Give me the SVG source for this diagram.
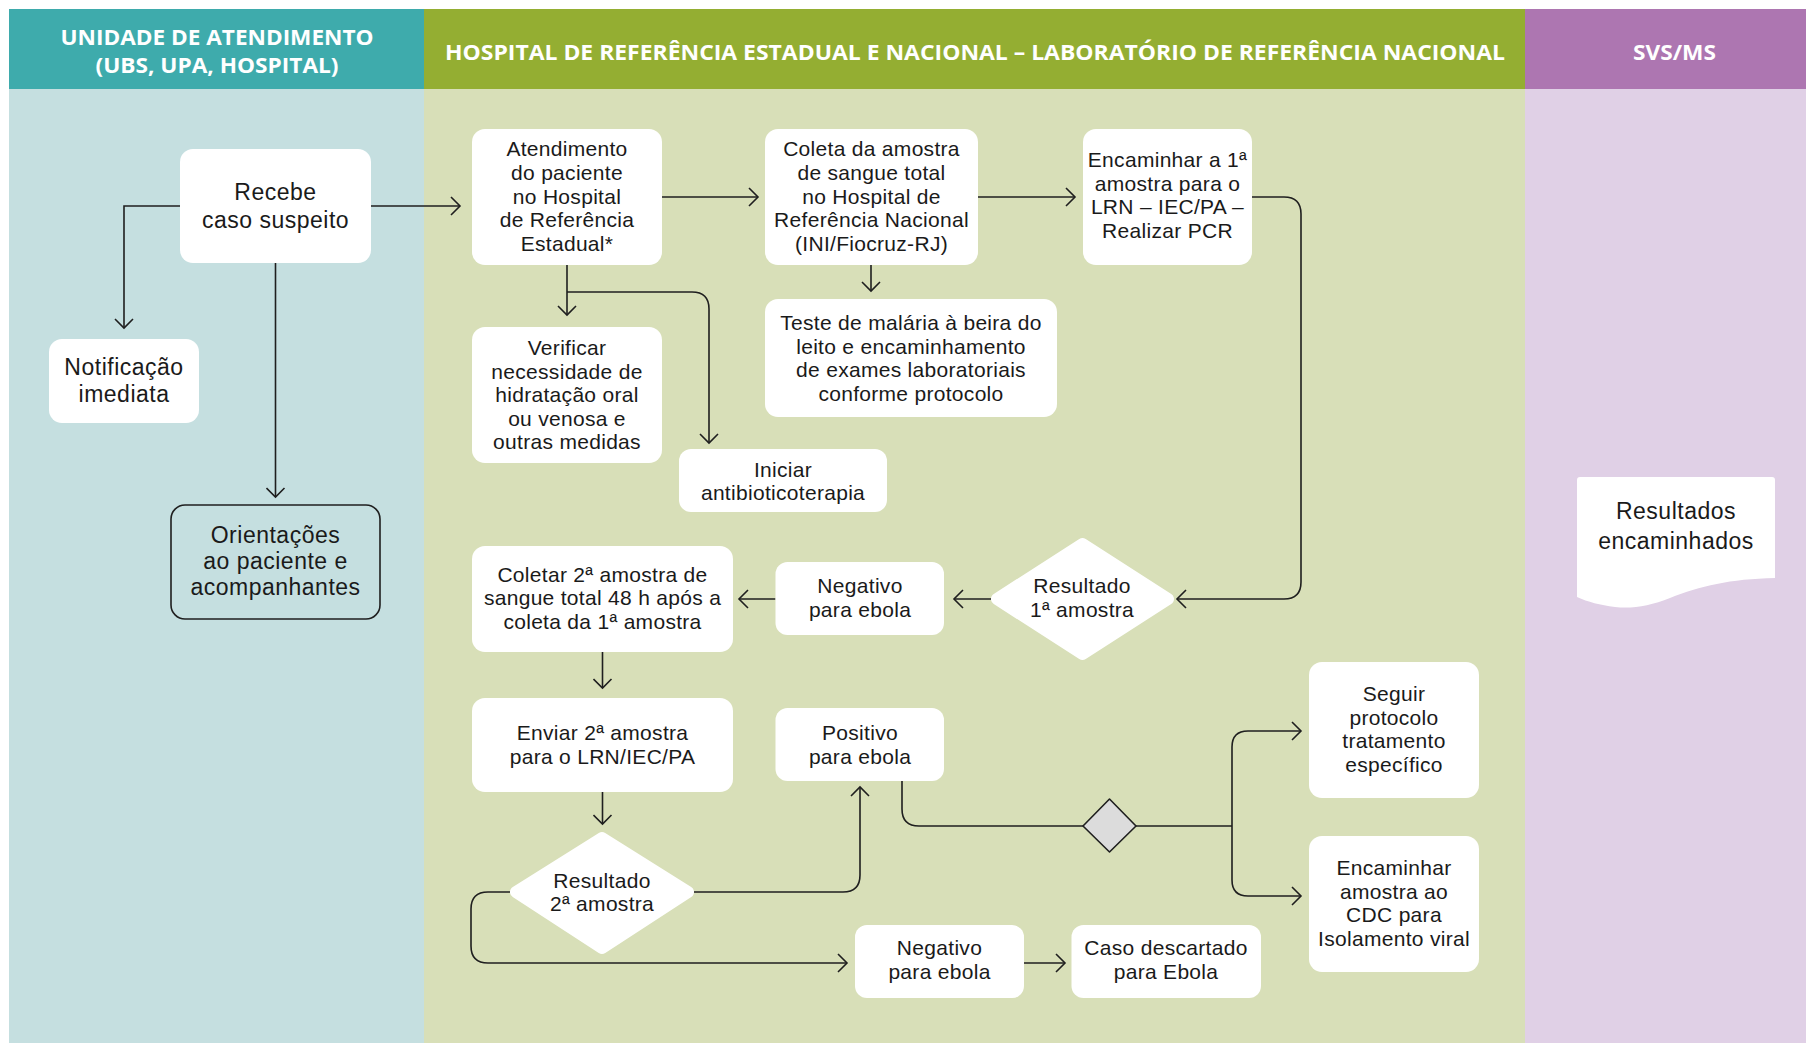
<svg xmlns="http://www.w3.org/2000/svg" width="1806" height="1043" viewBox="0 0 1806 1043">
<style>
.hd{font-family:"Open Sans","Liberation Sans",sans-serif;font-weight:700;font-size:21px;fill:#ffffff;text-anchor:middle}
.t{font-family:"Liberation Sans",Arial,sans-serif;font-size:21px;letter-spacing:0.3px;fill:#1a1a1a;text-anchor:middle}
.tl{font-family:"Liberation Sans",Arial,sans-serif;font-size:23px;letter-spacing:0.5px;fill:#1a1a1a;text-anchor:middle}
.box{fill:#ffffff}
.dia{fill:#ffffff;stroke:#ffffff;stroke-width:12;stroke-linejoin:round}
.ln{fill:none;stroke:#1f1f1f;stroke-width:1.6}
.arr{marker-end:url(#ah)}
</style>
<defs>
<marker id="ah" markerWidth="20" markerHeight="20" refX="10" refY="10" orient="auto" markerUnits="userSpaceOnUse" viewBox="0 0 20 20">
<path d="M1,1 L10,10 L1,19" fill="none" stroke="#1f1f1f" stroke-width="1.6"/>
</marker>
</defs>
<rect x="0" y="0" width="1806" height="1043" fill="#ffffff"/>
<g id="lanes">
<rect x="9" y="89" width="415" height="954" fill="#C5DFE0"/>
<rect x="424" y="89" width="1101" height="954" fill="#D8DFB8"/>
<rect x="1525" y="89" width="281" height="954" fill="#E0D0E6"/>
<rect x="9" y="9" width="415" height="80" fill="#3EABAC"/>
<rect x="424" y="9" width="1101" height="80" fill="#94AE32"/>
<rect x="1525" y="9" width="281" height="80" fill="#AD76B1"/>
<text class="hd" x="217" y="45" textLength="313" lengthAdjust="spacingAndGlyphs">UNIDADE DE ATENDIMENTO</text>
<text class="hd" x="217" y="73" textLength="243" lengthAdjust="spacingAndGlyphs">(UBS, UPA, HOSPITAL)</text>
<text class="hd" x="975" y="60" textLength="1060" lengthAdjust="spacingAndGlyphs">HOSPITAL DE REFERÊNCIA ESTADUAL E NACIONAL – LABORATÓRIO DE REFERÊNCIA NACIONAL</text>
<text class="hd" x="1674.5" y="60" textLength="83" lengthAdjust="spacingAndGlyphs">SVS/MS</text>
</g>
<g id="connectors">
<path class="ln arr" d="M371,206 H460"/>
<path class="ln arr" d="M180,206 H124 V328"/>
<path class="ln arr" d="M275.5,263 V497"/>
<path class="ln arr" d="M662,197 H758"/>
<path class="ln arr" d="M978,197 H1075"/>
<path class="ln arr" d="M567,265 V315"/>
<path class="ln arr" d="M567,292 H692 Q709,292 709,309 V443"/>
<path class="ln arr" d="M871,265 V291"/>
<path class="ln arr" d="M1252,197 H1284 Q1301,197 1301,214 V582 Q1301,599 1284,599 H1177"/>
<path class="ln arr" d="M991,599 H954"/>
<path class="ln arr" d="M775.5,599 H739"/>
<path class="ln arr" d="M602.5,652 V688"/>
<path class="ln arr" d="M602.5,792 V824"/>
<path class="ln arr" d="M694,892 H843 Q860,892 860,875 V787"/>
<path class="ln arr" d="M510,892 H488 Q471,892 471,909 V946 Q471,963 488,963 H847"/>
<path class="ln arr" d="M1024,963 H1065"/>
<path class="ln" d="M902,781 V809 Q902,826 919,826 H1083"/>
<path class="ln" d="M1136,826 H1232"/>
<path class="ln arr" d="M1232,826 V747 Q1232,731 1248,731 H1301"/>
<path class="ln arr" d="M1232,826 V880 Q1232,896 1248,896 H1301"/>
</g>
<g id="n_recebe">
<rect class="box" x="180" y="149" width="191" height="114" rx="13"/>
<text class="tl"><tspan x="275.5" y="200">Recebe</tspan><tspan x="275.5" y="228">caso suspeito</tspan></text>
</g>
<g id="n_notificacao">
<rect class="box" x="49" y="339" width="150" height="84" rx="13"/>
<text class="tl"><tspan x="124" y="375">Notificação</tspan><tspan x="124" y="402">imediata</tspan></text>
</g>
<g id="n_orientacoes">
<rect x="171" y="505" width="209" height="114" rx="14" fill="none" stroke="#1f1f1f" stroke-width="1.6"/>
<text class="tl"><tspan x="275.5" y="543">Orientações</tspan><tspan x="275.5" y="569">ao paciente e</tspan><tspan x="275.5" y="595">acompanhantes</tspan></text>
</g>
<g id="n_atendimento">
<rect class="box" x="472" y="129" width="190" height="136" rx="13"/>
<text class="t"><tspan x="567" y="156">Atendimento</tspan><tspan x="567" y="179.75">do paciente</tspan><tspan x="567" y="203.5">no Hospital</tspan><tspan x="567" y="227.25">de Referência</tspan><tspan x="567" y="251">Estadual*</tspan></text>
</g>
<g id="n_coleta">
<rect class="box" x="765" y="129" width="213" height="136" rx="13"/>
<text class="t"><tspan x="871.5" y="156">Coleta da amostra</tspan><tspan x="871.5" y="179.75">de sangue total</tspan><tspan x="871.5" y="203.5">no Hospital de</tspan><tspan x="871.5" y="227.25">Referência Nacional</tspan><tspan x="871.5" y="251">(INI/Fiocruz-RJ)</tspan></text>
</g>
<g id="n_encaminhar1">
<rect class="box" x="1083" y="129" width="169" height="136" rx="13"/>
<text class="t"><tspan x="1167.5" y="167">Encaminhar a 1ª</tspan><tspan x="1167.5" y="190.7">amostra para o</tspan><tspan x="1167.5" y="214.4">LRN – IEC/PA –</tspan><tspan x="1167.5" y="238">Realizar PCR</tspan></text>
</g>
<g id="n_verificar">
<rect class="box" x="472" y="327" width="190" height="136" rx="13"/>
<text class="t"><tspan x="567" y="355">Verificar</tspan><tspan x="567" y="378.5">necessidade de</tspan><tspan x="567" y="402">hidratação oral</tspan><tspan x="567" y="425.5">ou venosa e</tspan><tspan x="567" y="449">outras medidas</tspan></text>
</g>
<g id="n_iniciar">
<rect class="box" x="679" y="449" width="208" height="63" rx="12"/>
<text class="t"><tspan x="783" y="476.5">Iniciar</tspan><tspan x="783" y="500">antibioticoterapia</tspan></text>
</g>
<g id="n_teste">
<rect class="box" x="765" y="299" width="292" height="118" rx="13"/>
<text class="t"><tspan x="911" y="330">Teste de malária à beira do</tspan><tspan x="911" y="353.5">leito e encaminhamento</tspan><tspan x="911" y="377">de exames laboratoriais</tspan><tspan x="911" y="400.5">conforme protocolo</tspan></text>
</g>
<g id="d_resultado1">
<polygon class="dia" points="997,599 1082.5,544 1168,599 1082.5,654"/>
<text class="t"><tspan x="1082" y="593">Resultado</tspan><tspan x="1082" y="617">1ª amostra</tspan></text>
</g>
<g id="n_negativo1">
<rect class="box" x="775.5" y="562" width="168.5" height="73" rx="12"/>
<text class="t"><tspan x="860" y="593">Negativo</tspan><tspan x="860" y="617">para ebola</tspan></text>
</g>
<g id="n_coletar2">
<rect class="box" x="472" y="546" width="261" height="106" rx="13"/>
<text class="t"><tspan x="602.5" y="581.5">Coletar 2ª amostra de</tspan><tspan x="602.5" y="605">sangue total 48 h após a</tspan><tspan x="602.5" y="628.5">coleta da 1ª amostra</tspan></text>
</g>
<g id="n_enviar">
<rect class="box" x="472" y="698" width="261" height="94" rx="13"/>
<text class="t"><tspan x="602.5" y="740">Enviar 2ª amostra</tspan><tspan x="602.5" y="763.5">para o LRN/IEC/PA</tspan></text>
</g>
<g id="n_positivo">
<rect class="box" x="775.5" y="708" width="168.5" height="73" rx="12"/>
<text class="t"><tspan x="860" y="740">Positivo</tspan><tspan x="860" y="763.5">para ebola</tspan></text>
</g>
<g id="d_resultado2">
<polygon class="dia" points="516,892 602,838 688,892 602,948"/>
<text class="t"><tspan x="602" y="887.5">Resultado</tspan><tspan x="602" y="911">2ª amostra</tspan></text>
</g>
<g id="n_negativo2">
<rect class="box" x="855" y="925" width="169" height="73" rx="12"/>
<text class="t"><tspan x="939.5" y="955">Negativo</tspan><tspan x="939.5" y="979">para ebola</tspan></text>
</g>
<g id="n_caso">
<rect class="box" x="1071.5" y="925" width="189.5" height="73" rx="12"/>
<text class="t"><tspan x="1166" y="955">Caso descartado</tspan><tspan x="1166" y="979">para Ebola</tspan></text>
</g>
<g id="d_gray">
<polygon points="1083,826 1109.5,799 1136,826 1109.5,852" fill="#DCDCDC" stroke="#1f1f1f" stroke-width="1.6" stroke-linejoin="round"/>
</g>
<g id="n_seguir">
<rect class="box" x="1309" y="662" width="170" height="136" rx="13"/>
<text class="t"><tspan x="1394" y="701">Seguir</tspan><tspan x="1394" y="724.5">protocolo</tspan><tspan x="1394" y="748">tratamento</tspan><tspan x="1394" y="771.5">específico</tspan></text>
</g>
<g id="n_cdc">
<rect class="box" x="1309" y="836" width="170" height="136" rx="13"/>
<text class="t"><tspan x="1394" y="875">Encaminhar</tspan><tspan x="1394" y="898.5">amostra ao</tspan><tspan x="1394" y="922">CDC para</tspan><tspan x="1394" y="945.5">Isolamento viral</tspan></text>
</g>
<g id="n_resultados">
<path class="box" d="M1580,477 H1772 Q1775,477 1775,480 V578 C1730,579 1700,586 1670,598 C1650,606 1632,609 1615,607 C1600,605 1588,602 1577,597 V480 Q1577,477 1580,477 Z"/>
<text class="tl"><tspan x="1676" y="519">Resultados</tspan><tspan x="1676" y="549">encaminhados</tspan></text>
</g>
</svg>
